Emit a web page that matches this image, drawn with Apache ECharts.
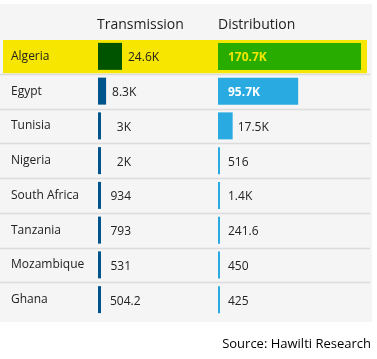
<!DOCTYPE html>
<html><head><meta charset="utf-8">
<script src="https://cdn.jsdelivr.net/npm/echarts@6/dist/echarts.min.js"></script>
<style>html,body{margin:0;padding:0;background:#fff}#c{width:377px;height:359px}</style>
</head><body><div id="c"></div>
<script>
const countries = ['Algeria','Egypt','Tunisia','Nigeria','South Africa','Tanzania','Mozambique','Ghana'];
const transmission = [24600, 8300, 3000, 2000, 934, 793, 531, 504.2];
const distribution = [170700, 95700, 17500, 516, 1400, 241.6, 450, 425];
const transmissionLabels = ['24.6K','8.3K','3K','2K','934','793','531','504.2'];
const distributionLabels = ['170.7K','95.7K','17.5K','516','1.4K','241.6','450','425'];
const headers = ['Transmission','Distribution'];
const highlighted = 'Algeria';
const sourceName = 'Hawilti Research';

const FONT = '"Open Sans", "Noto Sans", sans-serif';
const ctx = document.createElement('canvas').getContext('2d');
function textW(t, bold) { ctx.font = (bold ? 'bold ' : '') + '12px "Open Sans"'; return ctx.measureText(t).width; }

const TOP = 39, HEIGHT = 278;
const chart = echarts.init(document.getElementById('c'), null, {renderer: 'canvas'});

function catAxis(gi, show) {
  return {type: 'category', gridIndex: gi, data: countries, inverse: true, boundaryGap: true,
    axisLine: {show: false}, axisTick: {show: false}, splitLine: {show: false},
    z: 10,
    axisLabel: show ? {show: true, inside: true, margin: 11, color: '#222', fontSize: 12, fontFamily: FONT, padding: [2, 0, 0, 0]} : {show: false}};
}
function valAxis(gi, max) {
  return {type: 'value', gridIndex: gi, min: 0, max: max, show: false};
}

function labelSeries(axisIdx, values, labels, mode) {
  return {
    type: 'custom', xAxisIndex: axisIdx, yAxisIndex: axisIdx, z: 5,
    data: values.map((v, i) => [v, i]),
    encode: {x: 0, y: 1},
    renderItem: function (params, api) {
      const i = params.dataIndex;
      const start = api.coord([0, i]);
      const end = api.coord([api.value(0), i]);
      const barEnd = Math.max(end[0], start[0] + 3);
      const txt = labels[i];
      const isHi = countries[i] === highlighted;
      let x, color = '#222', bold = false;
      if (mode === 'dist') {
        const wb = textW(txt, true);
        if (barEnd - start[0] >= wb + 22) {
          x = start[0] + 10; bold = true; color = isHi ? '#f2e600' : '#ffffff';
        } else {
          x = Math.max(barEnd + 5, start[0] + 10);
        }
      } else {
        x = Math.max(barEnd + 6, start[0] + 12);
        const w = textW(txt, false);
        if (w < 21) x += 21 - w;
      }
      return {type: 'text', style: {x: x, y: start[1] + 1.5, text: txt, fill: color,
        font: (bold ? 'bold ' : '') + '12px ' + FONT, textAlign: 'left', textVerticalAlign: 'middle'}};
    }
  };
}

chart.setOption({
  backgroundColor: '#ffffff',
  animation: false,
  grid: [
    {left: 0, width: 370, top: TOP, height: HEIGHT},
    {left: 98, width: 24, top: TOP, height: HEIGHT},
    {left: 218, width: 143, top: TOP, height: HEIGHT}
  ],
  xAxis: [valAxis(0, 370), valAxis(1, transmission[0]), valAxis(2, distribution[0])],
  yAxis: [catAxis(0, true), catAxis(1, false), catAxis(2, false)],
  graphic: [
    {type: 'rect', z: -10, shape: {x: 0, y: 4, width: 372, height: 318}, style: {fill: '#f5f5f5'}},
    {type: 'text', left: 97, top: 18, style: {text: headers[0], font: '14px ' + FONT, fill: '#222'}},
    {type: 'text', left: 218, top: 18, style: {text: headers[1], font: '14px ' + FONT, fill: '#222'}},
    {type: 'text', right: 6, top: 338, style: {text: '{a|Source: }{b|' + sourceName + '}',
      rich: {a: {fontSize: 13, fontFamily: FONT, color: '#5a5a5a'},
             b: {fontSize: 13, fontFamily: FONT, color: '#3e5166'}}}}
  ],
  series: [
    {
      type: 'custom', xAxisIndex: 0, yAxisIndex: 0, z: 0,
      data: countries.map((c, i) => [0, i]),
      encode: {x: 0, y: 1},
      renderItem: function (params, api) {
        const i = params.dataIndex;
        const c = api.coord([0, i]);
        const band = api.size([0, 1])[1];
        const top = c[1] - band / 2, bottom = c[1] + band / 2;
        const x0 = api.coord([0, i])[0], x1 = api.coord([370, i])[0];
        const children = [];
        if (countries[i] === highlighted) {
          children.push({type: 'rect', shape: {x: x0 + 3, y: top + 1, width: 364, height: band - 1.5}, style: {fill: '#f7e600'}});
        }
        if (i < countries.length - 1) {
          children.push({type: 'line', shape: {x1: x0, y1: Math.round(bottom) + 0.5, x2: x1, y2: Math.round(bottom) + 0.5}, style: {stroke: '#dcdcdc', lineWidth: 1.5}});
        }
        return {type: 'group', children: children};
      }
    },
    {
      type: 'bar', xAxisIndex: 1, yAxisIndex: 1, data: transmission, barWidth: 27, barMinHeight: 3, z: 3,
      itemStyle: {color: p => countries[p.dataIndex] === highlighted ? '#005400' : '#00548c'}
    },
    {
      type: 'bar', xAxisIndex: 2, yAxisIndex: 2, data: distribution, barWidth: 27, barMinHeight: 2, z: 3,
      itemStyle: {color: p => countries[p.dataIndex] === highlighted ? '#29ac00' : '#29abe2'}
    },
    labelSeries(1, transmission, transmissionLabels, 'trans'),
    labelSeries(2, distribution, distributionLabels, 'dist')
  ]
});
</script></body></html>
